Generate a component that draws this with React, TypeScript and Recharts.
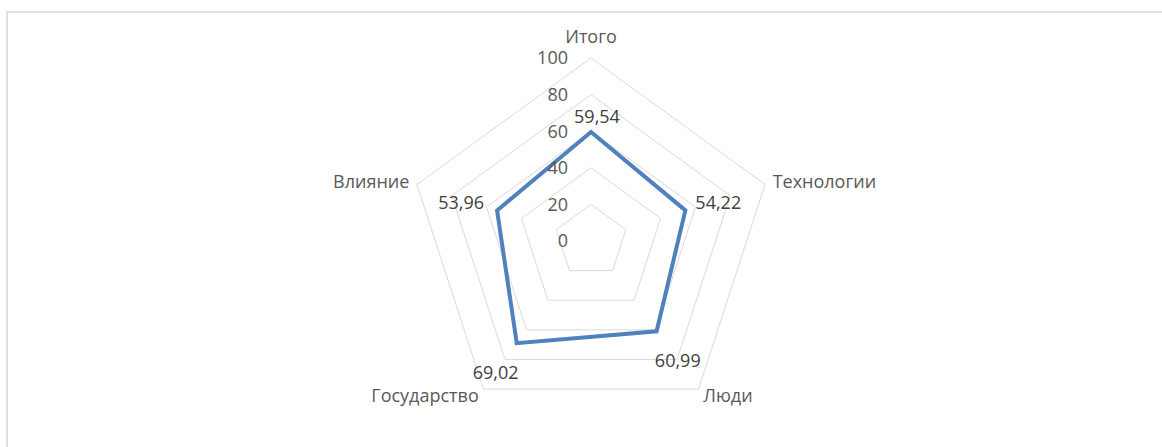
import React from "react";
import { RadarChart, Radar, PolarGrid, PolarAngleAxis, PolarRadiusAxis } from "recharts";

const categories = ["Итого", "Технологии", "Люди", "Государство", "Влияние"];
const values = [59.54, 54.22, 60.99, 69.02, 53.96];
const radiusTicks = [0, 20, 40, 60, 80, 100];

const data = categories.map((c, i) => ({ name: c, value: values[i] }));

const CX = 591;
const CY = 241;
const R = 183;
const FONT = "'Open Sans', sans-serif";
const FS = 18;

const AngleTick = (props: any) => {
  const { x, y, payload, textAnchor } = props;
  const isTop = textAnchor === "middle";
  return (
    <text
      x={x}
      y={isTop ? y - 13 : y}
      dy="0.35em"
      textAnchor={textAnchor}
      fill="#595959"
      fontFamily={FONT}
      fontSize={FS}
    >
      {payload.value}
    </text>
  );
};

const RadiusTick = (props: any) => {
  const { x, y, payload } = props;
  return (
    <text
      x={x - 23}
      y={y}
      dy="0.35em"
      textAnchor="end"
      fill="#595959"
      fontFamily={FONT}
      fontSize={FS}
    >
      {payload.value}
    </text>
  );
};

const ValueLabel = (props: any) => {
  const { x, y, value, index } = props;
  const n = categories.length;
  const a = ((90 - (index * 360) / n) * Math.PI) / 180;
  const dx = Math.cos(a);
  const dy = -Math.sin(a);
  let tx = x;
  let ty = y;
  let anchor: "start" | "end" | "middle" = "middle";
  if (Math.abs(dx) > 0.7) {
    anchor = dx > 0 ? "start" : "end";
    tx = x + (dx > 0 ? 10 : -13);
    ty = y - 8;
  } else if (dy < 0) {
    tx = x + 6;
    ty = y - 15;
  } else {
    tx = x + dx * 36;
    ty = y + dy * 36;
  }
  return (
    <text
      x={tx}
      y={ty}
      dy="0.35em"
      textAnchor={anchor}
      fill="#404040"
      fontFamily={FONT}
      fontSize={FS}
    >
      {Number(value).toFixed(2).replace(".", ",")}
    </text>
  );
};

export default function App() {
  return (
    <div
      style={{
        position: "fixed",
        left: 0,
        top: 0,
        width: 1162,
        height: 447,
        overflow: "hidden",
        background: "#fff",
      }}
    >
      <div
        style={{
          position: "absolute",
          left: 6,
          top: 11,
          width: 1300,
          height: 600,
          boxSizing: "border-box",
          borderLeft: "2px solid #e0e0e0",
          borderTop: "2px solid #e0e0e0",
        }}
      />
      <div style={{ position: "absolute", left: 0, top: 0 }}>
        <RadarChart width={1162} height={447} data={data} cx={CX} cy={CY} outerRadius={R}>
          <PolarGrid gridType="polygon" radialLines={false} stroke="#d9d9d9" strokeWidth={1} />
          <PolarAngleAxis dataKey="name" tick={<AngleTick />} axisLine={false} tickLine={false} />
          <PolarRadiusAxis
            angle={90}
            domain={[0, 100]}
            ticks={radiusTicks as any}
            tickCount={6}
            axisLine={false}
            tick={<RadiusTick />}
          />
          <Radar
            dataKey="value"
            stroke="#4f81bd"
            strokeWidth={4}
            fill="none"
            fillOpacity={0}
            dot={false}
            isAnimationActive={false}
            label={<ValueLabel />}
          />
        </RadarChart>
      </div>
    </div>
  );
}
